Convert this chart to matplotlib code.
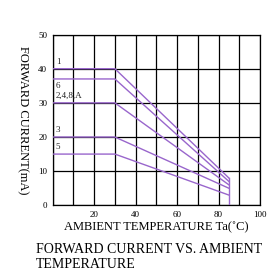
import matplotlib
matplotlib.use("Agg")
import matplotlib.pyplot as plt

# derating curves: flat up to the knee, then linear down to 85 C
names = ["1", "6", "2,4,8,A", "3", "5"]
flat_current = [40, 37, 30, 20, 15]
end_current = [8, 7, 6, 5, 3]
knee_temp = 30
end_temp = 85

x_ticks = [20, 40, 60, 80, 100]
y_ticks = [0, 10, 20, 30, 40, 50]

plt.rcParams["font.family"] = ["Liberation Serif", "DejaVu Serif"]

fig = plt.figure(figsize=(2.68, 2.70), dpi=100)
ax = fig.add_axes([0.1966, 0.2396, 0.7734, 0.6324])

purple = "#9966cc"
for name, i0, i1 in zip(names, flat_current, end_current):
    ax.plot([0, knee_temp, end_temp], [i0, i0, i1], color=purple, lw=1.0, zorder=3)
    # label "6" sits under its line, the others above
    if name == "6":
        ax.text(1.5, i0 - 0.8, name, fontsize=6.5, color="#222222", va="top", ha="left")
    else:
        ax.text(1.5, i0 + 0.8, name, fontsize=6.5, color="#222222", va="bottom", ha="left")
ax.plot([end_temp, end_temp], [0, max(end_current)], color=purple, lw=1.0, zorder=3)

ax.set_xlim(0, 100)
ax.set_ylim(0, 50)
ax.set_xticks(range(0, 101, 10))
ax.set_xticklabels(["" if v not in x_ticks else str(v) for v in range(0, 101, 10)])
ax.set_yticks(y_ticks)
ax.grid(True, color="black", lw=0.9)
ax.tick_params(length=0, labelsize=6.5, pad=4)
for s in ax.spines.values():
    s.set_color("black")
    s.set_linewidth(0.9)

ax.set_xlabel("AMBIENT TEMPERATURE Ta(˚C)", fontsize=9, labelpad=2)
ax.set_ylabel("FORWARD CURRENT(mA)", fontsize=9, rotation=-90)
ax.yaxis.set_label_coords(-0.172, 0.5)

fig.text(0.134, 0.063, "FORWARD CURRENT VS. AMBIENT", fontsize=10, ha="left", va="baseline")
fig.text(0.134, 0.007, "TEMPERATURE", fontsize=10, ha="left", va="baseline")

fig.savefig("out.png", dpi=100)
